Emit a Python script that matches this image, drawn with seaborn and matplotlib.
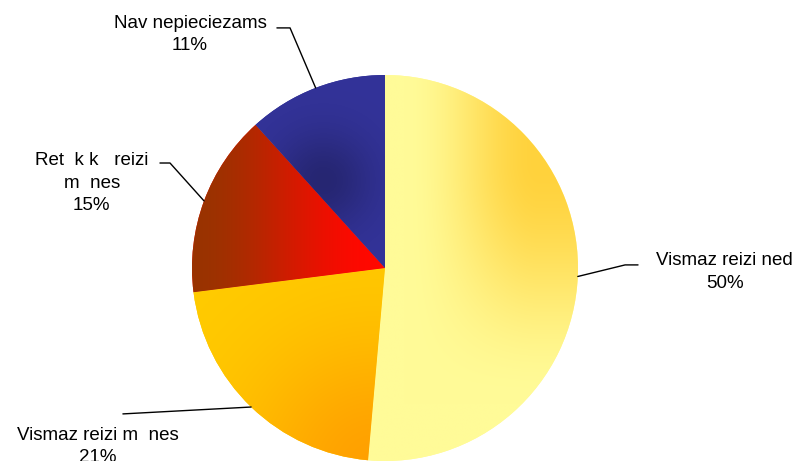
import numpy as np
import matplotlib
matplotlib.use("Agg")
import matplotlib.pyplot as plt
import seaborn as sns
from matplotlib.colors import to_rgb

# slice shares (clockwise from 12 o'clock)
categories = ["Vismaz reizi ned", "Vismaz reizi m  nes", "Ret  k k   reizi\nm  nes", "Nav nepieciezams"]
shares = [51.4, 21.6, 15.3, 11.7]
pct_labels = ["50%", "21%", "15%", "11%"]

# base colour, shade colour for each slice
base_colors = ["#FFFB98", "#FFCC00", "#FF0800", "#333399"]
shade_colors = ["#FFD23C", "#FFA000", "#993300", "#262672"]

# label layout: text centre, elbow points of the leader line
label_pos = [(1.76, -0.02), (-1.49, -0.925), (-1.52, 0.44), (-1.01, 1.21)]
elbows = [
    [(1.244, 0.016), (1.311, 0.016)],
    [(-1.358, -0.756)],
    [(-1.114, 0.544), (-1.166, 0.544)],
    [(-0.492, 1.244), (-0.560, 1.244)],
]


def ramp(v, a, b):
    s = np.clip((v - a) / (b - a), 0, 1)
    return s * s * (3 - 2 * s)


xs = np.linspace(-1, 1, 500)
X, Y = np.meshgrid(xs, xs)
shade_maps = [
    ramp(X, 0.1, 0.8) * ramp(Y, -0.7, 0.55),
    np.exp(-((X + 0.05) ** 2 + (Y + 1.05) ** 2) / 0.7 ** 2),
    1 - ramp(X, -1.0, -0.05),
    np.exp(-((X + 0.32) ** 2 + (Y - 0.45) ** 2) / 0.25 ** 2),
]

sns.set_theme(style="white")
plt.rcParams["font.family"] = ["Liberation Sans", "DejaVu Sans"]

fig = plt.figure(figsize=(7.97, 4.61), dpi=100)
ax = fig.add_axes([0, 0, 1, 1])

wedges, _ = ax.pie(shares, startangle=90, counterclock=False, radius=1,
                   colors=base_colors, wedgeprops=dict(linewidth=0))

for w, base, shade, t in zip(wedges, base_colors, shade_colors, shade_maps):
    b = np.array(to_rgb(base))
    d = np.array(to_rgb(shade))
    img = b * (1 - t[..., None]) + d * t[..., None]
    im = ax.imshow(img, extent=(-1, 1, -1, 1), origin="lower", zorder=2,
                   interpolation="bilinear")
    im.set_clip_path(w)

for w, cat, pct, pos, elb in zip(wedges, categories, pct_labels, label_pos, elbows):
    ang = np.deg2rad((w.theta1 + w.theta2) / 2)
    pts = [(np.cos(ang), np.sin(ang))] + elb
    ax.plot([p[0] for p in pts], [p[1] for p in pts], color="black", lw=1.0, zorder=3)
    ax.text(pos[0], pos[1], f"{cat}\n{pct}", ha="center", va="center",
            fontsize=13.5, color="black", linespacing=1.45)

ax.set_xlim(-385 / 193, 412 / 193)
ax.set_ylim(-193 / 193, 268 / 193)
ax.set_aspect("auto")
ax.axis("off")

fig.savefig("out.png", dpi=100)
